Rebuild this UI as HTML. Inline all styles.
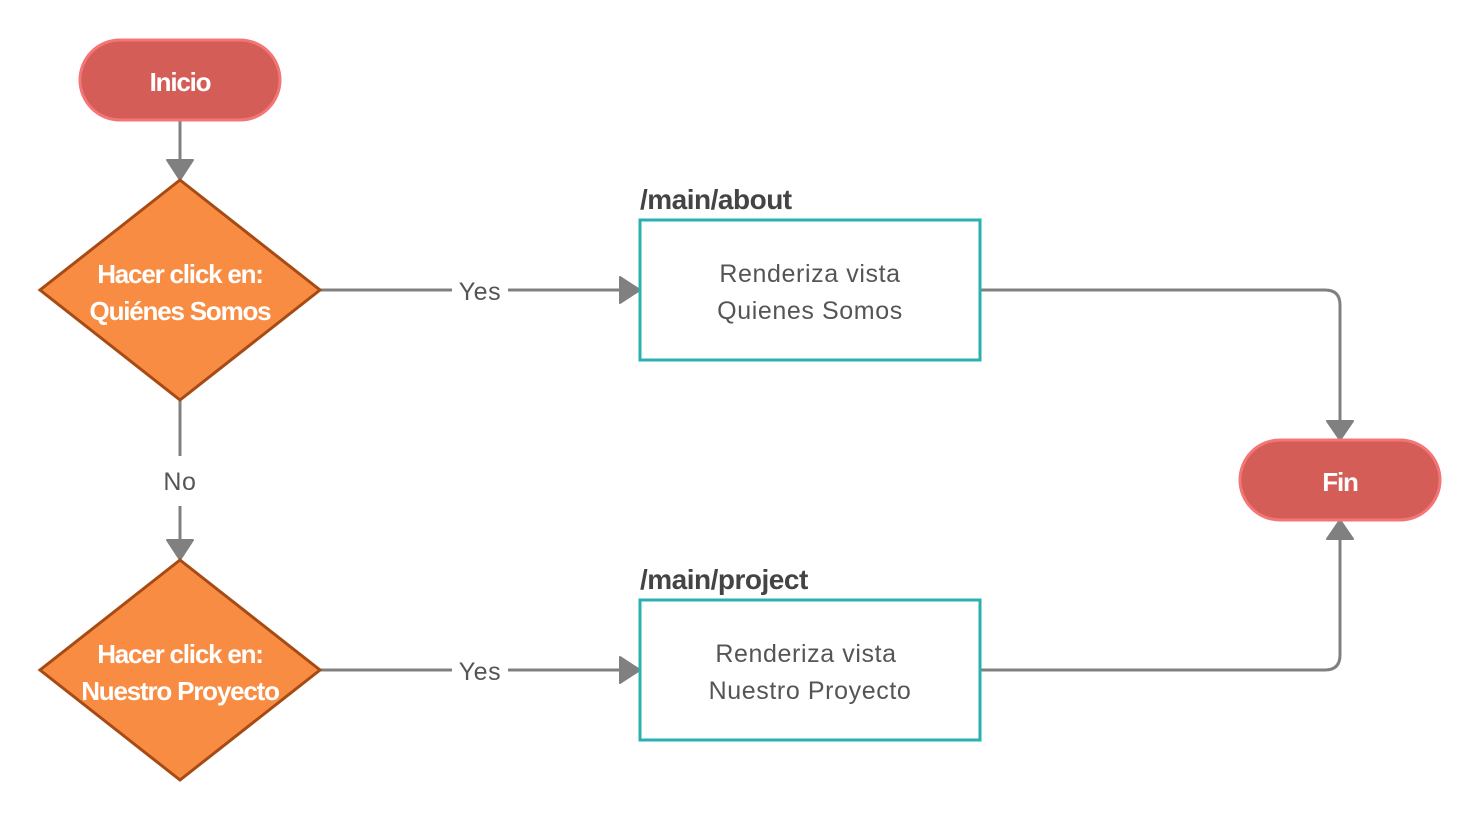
<!DOCTYPE html>
<html><head><meta charset="utf-8"><style>html,body{margin:0;padding:0;background:#fff}svg{display:block}</style></head>
<body>
<svg width="1480" height="820" viewBox="0 0 1480 820" xmlns="http://www.w3.org/2000/svg" font-family="Liberation Sans, sans-serif">
<g stroke="#808080" stroke-width="3" fill="none">
<line x1="180" y1="120" x2="180" y2="160"/>
<line x1="180" y1="400" x2="180" y2="456"/>
<line x1="180" y1="506" x2="180" y2="540"/>
<line x1="320" y1="290" x2="452" y2="290"/>
<line x1="508" y1="290" x2="620" y2="290"/>
<line x1="320" y1="670" x2="452" y2="670"/>
<line x1="508" y1="670" x2="620" y2="670"/>
<path d="M980 290 H1325 Q1340 290 1340 305 V420"/>
<path d="M980 670 H1325 Q1340 670 1340 655 V540"/>
</g>
<g fill="#808080" stroke="#808080" stroke-width="2" stroke-linejoin="round">
<path d="M167 160 H193 L180 180 Z"/>
<path d="M167 540 H193 L180 560 Z"/>
<path d="M620 277 V303 L640 290 Z"/>
<path d="M620 657 V683 L640 670 Z"/>
<path d="M1327 421 H1353 L1340 440 Z"/>
<path d="M1327 539 H1353 L1340 520 Z"/>
</g>
<rect x="80" y="40" width="200" height="80" rx="40" fill="#d45d58" stroke="#f47575" stroke-width="3"/>
<rect x="1240" y="440" width="200" height="80" rx="40" fill="#d45d58" stroke="#f47575" stroke-width="3"/>
<polygon points="180,180 320,290 180,400 40,290" fill="#f98c43" stroke="#a64b14" stroke-width="3"/>
<polygon points="180,560 320,670 180,780 40,670" fill="#f98c43" stroke="#a64b14" stroke-width="3"/>
<rect x="640" y="220" width="340" height="140" fill="#fff" stroke="#2ab0b0" stroke-width="3"/>
<rect x="640" y="600" width="340" height="140" fill="#fff" stroke="#2ab0b0" stroke-width="3"/>
<g fill="#fff" font-weight="bold" text-anchor="middle" font-size="26" letter-spacing="-1.2">
<text x="180" y="91">Inicio</text>
<text x="1340" y="491">Fin</text>
<text x="180" y="283">Hacer click en:</text>
<text x="180" y="320">Quiénes Somos</text>
<text x="180" y="663">Hacer click en:</text>
<text x="180" y="700">Nuestro Proyecto</text>
</g>
<g fill="#555" text-anchor="middle" font-size="25" letter-spacing="0.6">
<text x="810" y="282">Renderiza vista</text>
<text x="810" y="319">Quienes Somos</text>
<text x="806" y="662">Renderiza vista</text>
<text x="810" y="699">Nuestro Proyecto</text>
<text x="480" y="300">Yes</text>
<text x="480" y="680">Yes</text>
<text x="180" y="490">No</text>
</g>
<g fill="#444" font-weight="bold" font-size="28" letter-spacing="-0.5">
<text x="640" y="209">/main/about</text>
<text x="640" y="589">/main/project</text>
</g>
</svg>
</body></html>
